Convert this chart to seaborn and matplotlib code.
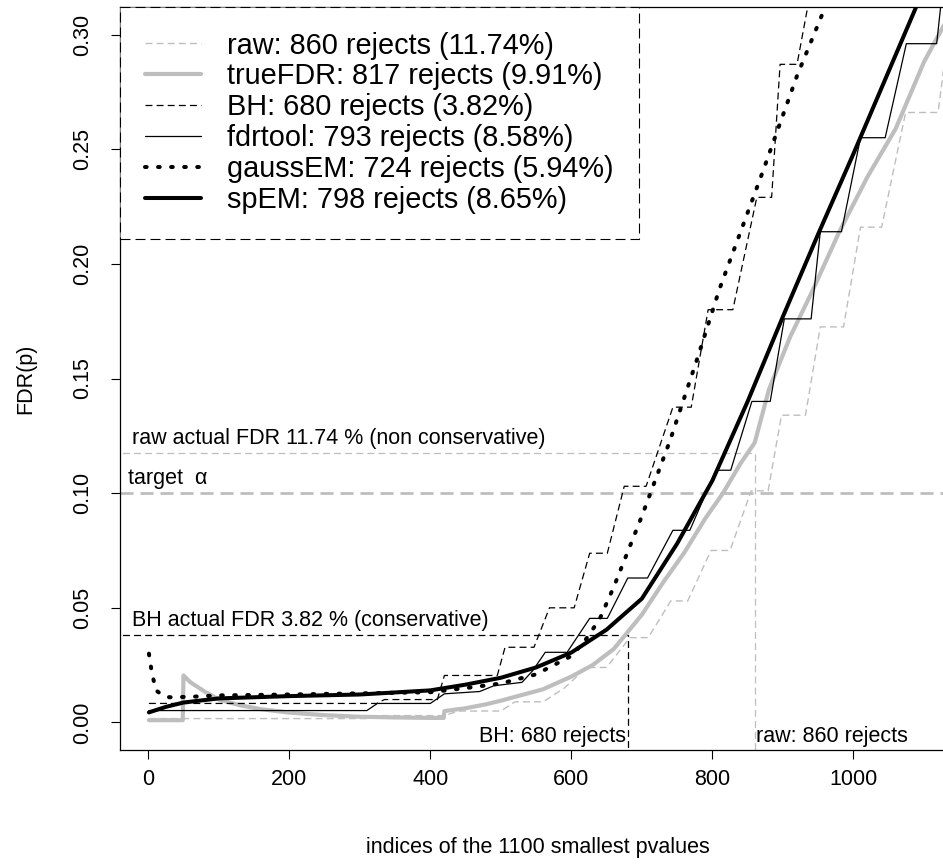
import matplotlib
matplotlib.use('Agg')
import matplotlib.pyplot as plt
import seaborn as sns

# Valores (índice, FDR estimado)
raw_x = [1, 310, 330, 420, 440, 500, 520, 560, 590, 622, 650, 683, 709, 741, 765,
         798, 825, 855, 879, 898, 932, 953, 986, 1010, 1040, 1074, 1120, 1130]
raw_y = [0.0017, 0.0017, 0.003, 0.003, 0.005, 0.005, 0.009, 0.009, 0.015, 0.024, 0.024,
         0.037, 0.037, 0.053, 0.053, 0.075, 0.075, 0.101, 0.101, 0.134, 0.134, 0.1725,
         0.1725, 0.216, 0.216, 0.266, 0.266, 0.29]

true_x = [1, 49, 50, 60, 80, 100, 130, 160, 200, 250, 300, 350, 400, 419, 420, 450,
          480, 500, 530, 560, 600, 630, 660, 700, 730, 760, 790, 815, 840, 860, 880,
          910, 940, 980, 1020, 1060, 1100, 1130]
true_y = [0.001, 0.001, 0.0205, 0.0175, 0.0135, 0.0100, 0.0075, 0.0058, 0.0043, 0.0032,
          0.0025, 0.0022, 0.0020, 0.0020, 0.0050, 0.0062, 0.0080, 0.0095, 0.0120, 0.0145,
          0.0200, 0.0250, 0.0320, 0.0470, 0.0610, 0.0740, 0.0890, 0.1000, 0.1130, 0.1220,
          0.1450, 0.1680, 0.1870, 0.2140, 0.2380, 0.2590, 0.2880, 0.3050]

bh_x = [1, 324, 335, 410, 420, 495, 506, 547, 569, 604, 626, 651, 675, 706, 744, 770,
        794, 829, 863, 884, 896, 920, 940]
bh_y = [0.0083, 0.0083, 0.0100, 0.0100, 0.0205, 0.0205, 0.0328, 0.0328, 0.050, 0.050,
        0.0738, 0.0738, 0.103, 0.103, 0.1375, 0.1375, 0.180, 0.180, 0.229, 0.229, 0.287,
        0.287, 0.320]

fdrtool_x = [1, 310, 325, 400, 420, 470, 490, 530, 545, 563, 594, 626, 651, 680, 708,
             744, 768, 805, 826, 856, 882, 902, 940, 953, 983, 1010, 1045, 1075, 1118, 1130]
fdrtool_y = [0.0052, 0.0052, 0.0083, 0.0083, 0.0125, 0.0135, 0.0160, 0.0175, 0.0225,
             0.0306, 0.0306, 0.0454, 0.0454, 0.063, 0.063, 0.0838, 0.0838, 0.110, 0.110,
             0.140, 0.140, 0.176, 0.176, 0.214, 0.214, 0.255, 0.255, 0.296, 0.296, 0.330]

gauss_x = [1, 5, 11, 20, 30, 60, 100, 200, 300, 400, 450, 500, 550, 600, 620, 640, 660,
           680, 700, 720, 740, 780, 810, 870, 920, 960, 980]
gauss_y = [0.030, 0.022, 0.014, 0.012, 0.011, 0.0112, 0.0118, 0.0122, 0.0127, 0.0132,
           0.0150, 0.0170, 0.0210, 0.0290, 0.0360, 0.0450, 0.0590, 0.0745, 0.0900, 0.1065,
           0.1230, 0.1600, 0.1890, 0.2390, 0.2820, 0.3120, 0.3300]

spem_x = [1, 25, 50, 100, 200, 300, 400, 450, 500, 550, 600, 650, 700, 750, 800, 850,
          900, 950, 1000, 1050, 1100, 1130]
spem_y = [0.0044, 0.0068, 0.0087, 0.0105, 0.0115, 0.0122, 0.0140, 0.0165, 0.0195, 0.0240,
          0.0305, 0.0405, 0.0540, 0.0780, 0.1055, 0.1400, 0.1770, 0.2130, 0.2480, 0.2840,
          0.3200, 0.3400]

labels = ['raw: 860 rejects (11.74%)', 'trueFDR: 817 rejects (9.91%)',
          'BH: 680 rejects (3.82%)', 'fdrtool: 793 rejects (8.58%)',
          'gaussEM: 724 rejects (5.94%)', 'spEM: 798 rejects (8.65%)']

alpha_target = 0.10
raw_fdr, raw_rejects = 0.1174, 860
bh_fdr, bh_rejects = 0.0382, 680

sns.set_style('ticks')
plt.rcParams['font.family'] = ['Liberation Sans', 'DejaVu Sans']
plt.rcParams['lines.scale_dashes'] = False
plt.rcParams['text.color'] = 'black'
plt.rcParams['axes.labelcolor'] = 'black'

gris = '#BEBEBE'
fs = 15.5

fig = plt.figure(figsize=(9.43, 8.65), dpi=100)
ax = fig.add_axes([120 / 943, 115 / 865, 823 / 943, 743 / 865])

# lineas de referencia
ax.axhline(alpha_target, color=gris, lw=2.0, ls=(0, (9.4, 5)), zorder=1)
ax.plot([-100, raw_rejects, raw_rejects], [raw_fdr, raw_fdr, -1], color=gris, lw=0.9,
        ls=(0, (5, 3)), zorder=1)
ax.plot([-100, bh_rejects, bh_rejects], [bh_fdr, bh_fdr, -1], color='black', lw=0.9,
        ls=(0, (5, 3)), zorder=1)

# curvas
sns.lineplot(x=raw_x, y=raw_y, ax=ax, color=gris, lw=1.0, linestyle=(0, (5, 3)),
             sort=False, estimator=None, label=labels[0])
sns.lineplot(x=true_x, y=true_y, ax=ax, color=gris, lw=3.0, sort=False,
             estimator=None, label=labels[1])
sns.lineplot(x=bh_x, y=bh_y, ax=ax, color='black', lw=0.9, linestyle=(0, (5, 3)),
             sort=False, estimator=None, label=labels[2])
sns.lineplot(x=fdrtool_x, y=fdrtool_y, ax=ax, color='black', lw=0.9, sort=False,
             estimator=None, label=labels[3])
sns.lineplot(x=gauss_x, y=gauss_y, ax=ax, color='black', lw=2.9, linestyle=(0, (1.2, 8.2)),
             dash_capstyle='round', sort=False, estimator=None, label=labels[4])
sns.lineplot(x=spem_x, y=spem_y, ax=ax, color='black', lw=2.9, sort=False,
             estimator=None, label=labels[5])

# textos
ax.annotate('raw actual FDR 11.74 % (non conservative)', xy=(-23, raw_fdr),
            xytext=(0, 3), textcoords='offset points', fontsize=fs, va='bottom')
ax.annotate('target  \u03b1', xy=(-28, alpha_target), xytext=(0, 3),
            textcoords='offset points', fontsize=fs, va='bottom')
ax.annotate('BH actual FDR 3.82 % (conservative)', xy=(-23, bh_fdr),
            xytext=(0, 3), textcoords='offset points', fontsize=fs, va='bottom')
ax.annotate('BH: 680 rejects', xy=(bh_rejects, 0), xycoords=('data', 'axes fraction'),
            xytext=(-1, 2), textcoords='offset points', fontsize=fs, ha='right', va='bottom')
ax.annotate('raw: 860 rejects', xy=(raw_rejects, 0), xycoords=('data', 'axes fraction'),
            xytext=(1, 2), textcoords='offset points', fontsize=fs, ha='left', va='bottom')

ax.set_xlim(-40, 1127)
ax.set_ylim(-0.012, 0.312)
ax.set_xticks([0, 200, 400, 600, 800, 1000])
ax.set_yticks([0.0, 0.05, 0.10, 0.15, 0.20, 0.25, 0.30])
ax.set_yticklabels(['0.00', '0.05', '0.10', '0.15', '0.20', '0.25', '0.30'],
                   rotation=90, va='center')
ax.tick_params(axis='both', direction='out', length=6.5, width=0.8, colors='black',
               labelsize=fs)
ax.tick_params(axis='x', pad=7)
ax.tick_params(axis='y', pad=13)
for s in ['left', 'bottom', 'top']:
    ax.spines[s].set_color('black')
    ax.spines[s].set_linewidth(0.9)
ax.spines['right'].set_visible(False)

ax.set_xlabel('indices of the 1100 smallest pvalues', fontsize=fs, labelpad=34)
ax.xaxis.label.set_x(0.508)
ax.set_ylabel('FDR(p)', fontsize=fs, labelpad=26)

leg = ax.legend(loc='upper left', bbox_to_anchor=(0, 1), borderaxespad=0,
                fontsize=20.8, handlelength=1.95, handletextpad=0.92, labelspacing=0.10,
                borderpad=0.85, fancybox=False, framealpha=1, edgecolor='black')
leg.get_frame().set_linestyle((0, (7.2, 3.6)))
leg.get_frame().set_linewidth(0.8)

fig.savefig('out.png', dpi=100, facecolor='white')
